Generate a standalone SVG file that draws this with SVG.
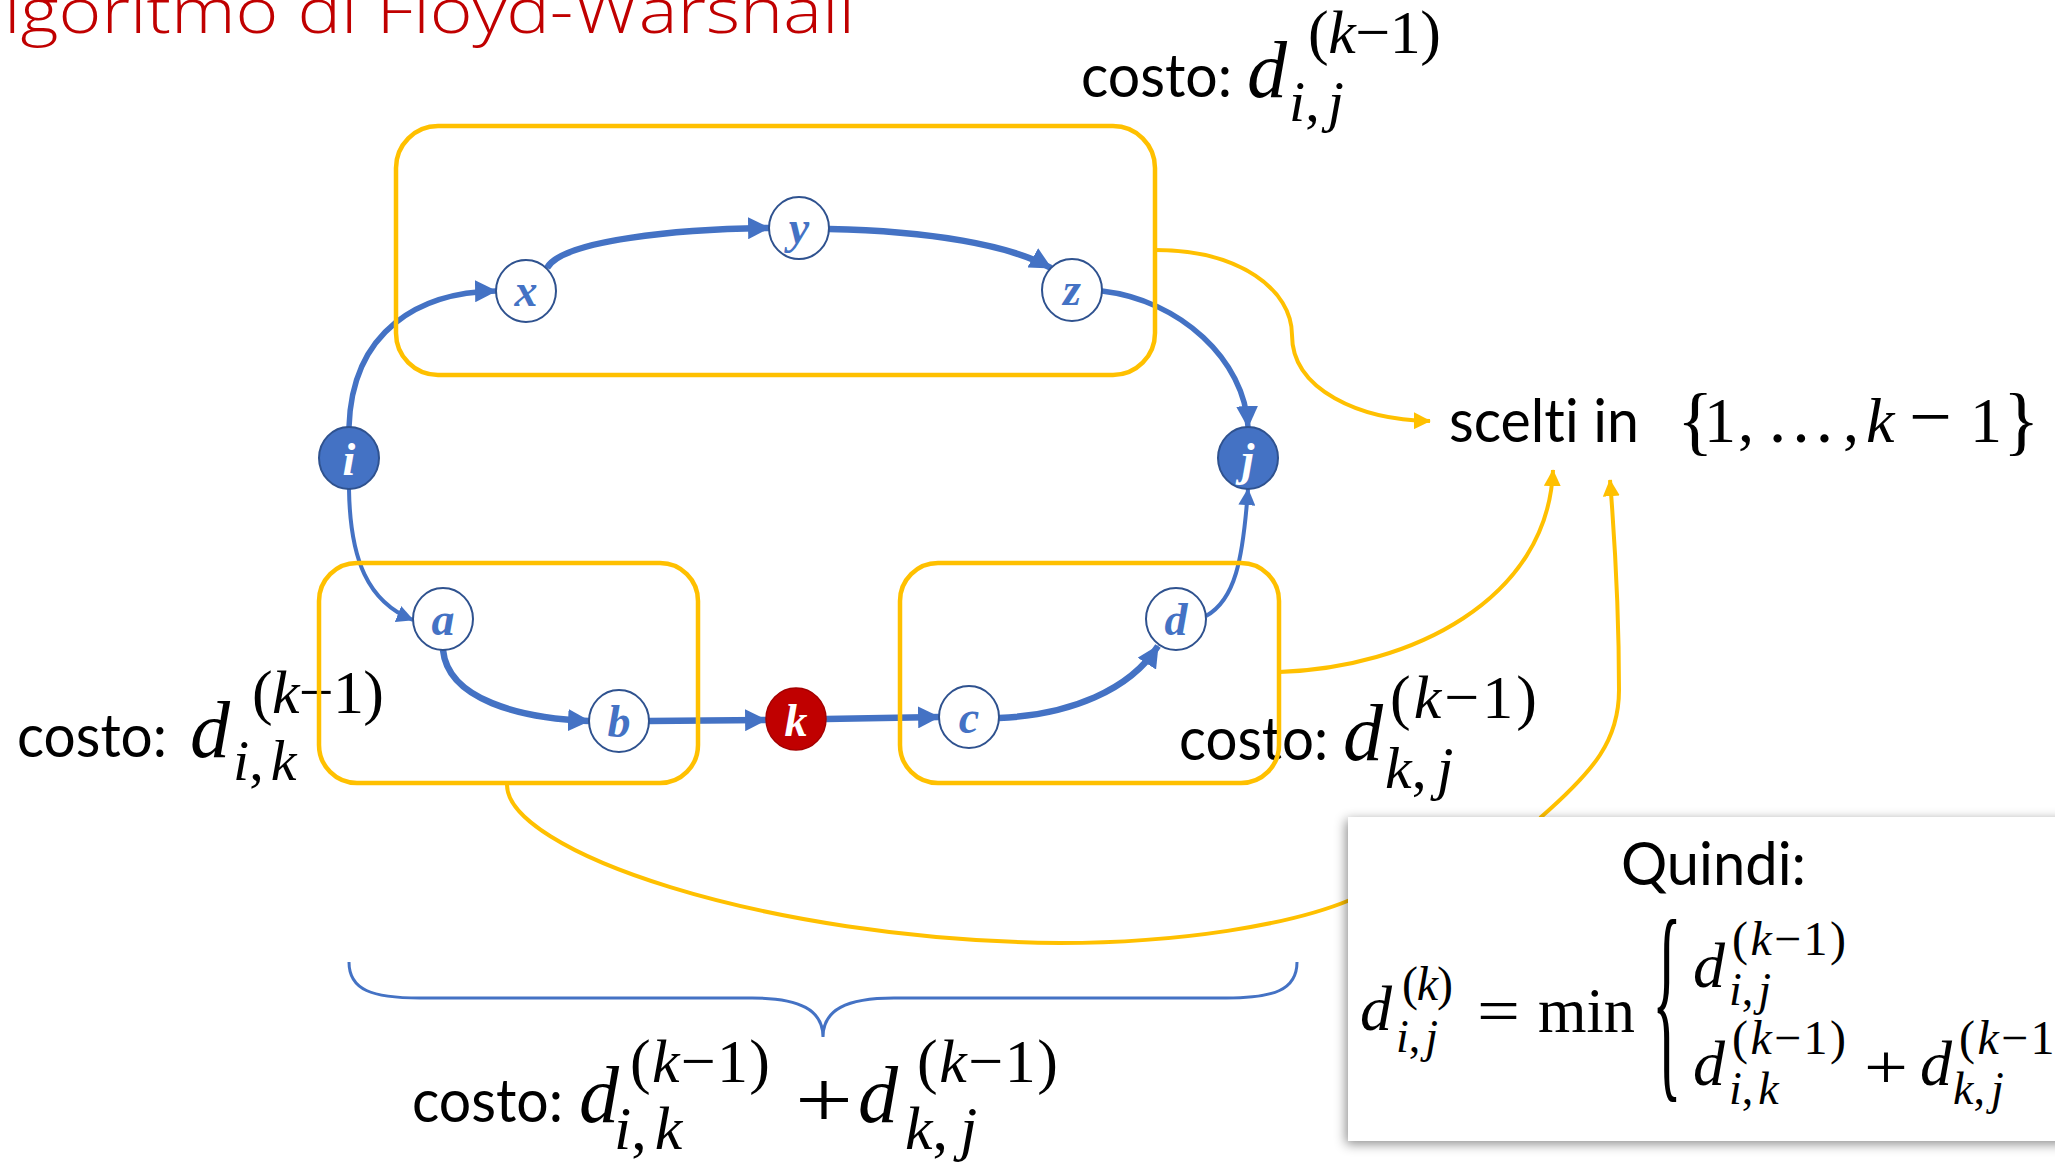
<svg xmlns="http://www.w3.org/2000/svg" width="2055" height="1163" viewBox="0 0 2055 1163">
<defs>
<style>
.sans{font-family:Lato,"Open Sans","Liberation Sans",sans-serif;fill:#000;font-variant-ligatures:none}
.m{font-family:"Liberation Serif","Times New Roman",serif;fill:#000}
.it{font-style:italic}
.up{font-style:normal}
.nl{font-family:"Liberation Serif","Times New Roman",serif;font-style:italic;font-weight:bold;text-anchor:middle;font-size:46px;fill:#4472C4}
.nlw{fill:#fff}
.edge{fill:none;stroke:#4472C4;stroke-width:5.5;marker-end:url(#ab)}
.thin{stroke-width:4;marker-end:url(#abs)}
.flat{fill:none;stroke:#4472C4;stroke-width:6.5;marker-end:url(#ab)}
.ybox{fill:none;stroke:#FFC000;stroke-width:4.5}
.ylink{fill:none;stroke:#FFC000;stroke-width:4;marker-end:url(#ay)}
.ylink0{fill:none;stroke:#FFC000;stroke-width:4}
.wn{fill:#fff;stroke:#2F528F;stroke-width:2}
.bn{fill:#4472C4;stroke:#2F528F;stroke-width:2}
.rn{fill:#C00000;stroke:#A50000;stroke-width:1.5}
</style>
<marker id="ab" markerUnits="userSpaceOnUse" markerWidth="22" markerHeight="22" viewBox="0 0 20 20" refX="19" refY="10" orient="auto"><path d="M0,0 L20,10 L0,20 z" fill="#4472C4"/></marker>
<marker id="abs" markerUnits="userSpaceOnUse" markerWidth="17" markerHeight="17" viewBox="0 0 20 20" refX="19" refY="10" orient="auto"><path d="M0,0 L20,10 L0,20 z" fill="#4472C4"/></marker>
<marker id="ay" markerUnits="userSpaceOnUse" markerWidth="17" markerHeight="17" viewBox="0 0 20 20" refX="19" refY="10" orient="auto"><path d="M0,0 L20,10 L0,20 z" fill="#FFC000"/></marker>
<filter id="sh" x="-10%" y="-20%" width="120%" height="140%"><feDropShadow dx="-2" dy="3" stdDeviation="6" flood-color="#000" flood-opacity="0.45"/></filter>
</defs>
<rect width="2055" height="1163" fill="#fff"/>

<text id="title" x="4" y="33" font-family="'Open Sans',Lato,'Liberation Sans',sans-serif" font-weight="300" font-size="62" fill="#C00000" textLength="851" lengthAdjust="spacingAndGlyphs">lgoritmo di Floyd-Warshall</text>

<!-- cost labels -->
<g id="label-top">
<text class="sans" x="1081" y="97" font-size="60" textLength="151" lengthAdjust="spacingAndGlyphs">costo:</text>
<text class="m it" x="1247" y="97" font-size="80">d</text>
<text class="m" x="1308" y="53" font-size="62" textLength="133" lengthAdjust="spacing">(<tspan class="it">k</tspan>−1)</text>
<text class="m it" x="1289" y="121" font-size="58">i<tspan class="up">,</tspan><tspan dx="8">j</tspan></text>
</g>
<g id="label-left">
<text class="sans" x="17" y="757" font-size="60" textLength="150" lengthAdjust="spacingAndGlyphs">costo:</text>
<text class="m it" x="190" y="757" font-size="80">d</text>
<text class="m" x="252" y="713" font-size="62" textLength="132" lengthAdjust="spacing">(<tspan class="it">k</tspan>−1)</text>
<text class="m it" x="233" y="780" font-size="58">i<tspan class="up">,</tspan><tspan dx="7">k</tspan></text>
</g>
<g id="label-right">
<text class="sans" x="1179" y="760" font-size="60" textLength="149" lengthAdjust="spacingAndGlyphs">costo:</text>
<text class="m it" x="1343" y="760" font-size="80">d</text>
<text class="m" x="1390" y="718" font-size="62" textLength="147" lengthAdjust="spacing">(<tspan class="it">k</tspan>−1)</text>
<text class="m it" x="1385" y="788" font-size="60">k<tspan class="up">,</tspan><tspan dx="10">j</tspan></text>
</g>
<g id="label-bottom">
<text class="sans" x="412" y="1122" font-size="60" textLength="151" lengthAdjust="spacingAndGlyphs">costo:</text>
<text class="m it" x="579" y="1122" font-size="80">d</text>
<text class="m" x="630" y="1082" font-size="62" textLength="140" lengthAdjust="spacing">(<tspan class="it">k</tspan>−1)</text>
<text class="m it" x="614" y="1149" font-size="62">i<tspan class="up">,</tspan><tspan dx="8">k</tspan></text>
<text class="m" x="795" y="1127" font-size="80" textLength="58" lengthAdjust="spacingAndGlyphs">+</text>
<text class="m it" x="858" y="1122" font-size="80">d</text>
<text class="m" x="917" y="1082" font-size="62" textLength="141" lengthAdjust="spacing">(<tspan class="it">k</tspan>−1)</text>
<text class="m it" x="905" y="1149" font-size="62">k<tspan class="up">,</tspan><tspan dx="12">j</tspan></text>
</g>
<g id="label-scelti">
<text class="sans" x="1449" y="442" font-size="60" textLength="190" lengthAdjust="spacingAndGlyphs">scelti in</text>
<text class="m" y="442" font-size="64"><tspan x="1677" y="446" font-size="76">{</tspan><tspan x="1704" y="442">1</tspan><tspan x="1738">,</tspan><tspan x="1766" font-size="70">…</tspan><tspan x="1843" font-size="64">,</tspan><tspan x="1866" font-style="italic">k</tspan><tspan x="1909" font-size="76">−</tspan><tspan x="1970" font-size="64">1</tspan><tspan x="2003" y="446" font-size="76">}</tspan></text>
</g>

<!-- blue brace -->
<path id="brace" d="M349,962 C349,990 372,998 420,998 L752,998 C800,998 823,1010 823,1037 C823,1010 846,998 894,998 L1226,998 C1274,998 1297,990 1297,962" fill="none" stroke="#4472C4" stroke-width="3"/>

<g id="connectors">
<path class="edge" d="M349,427 C352,330 420,292 496,291"/>
<path class="flat" d="M547,268 C562,240 680,229 769,228"/>
<path class="flat" d="M829,229 C930,231 1010,245 1051,268"/>
<path class="edge" d="M1102,291 C1180,300 1245,360 1248,427"/>
<path class="edge thin" d="M349,489 C350,560 368,602 413,620"/>
<path class="flat" d="M443,650 C448,700 520,718 589,721"/>
<path class="flat" d="M649,721 L766,720"/>
<path class="flat" d="M826,719 L939,717"/>
<path class="flat" d="M999,718 C1070,715 1130,690 1158,646"/>
<path class="edge thin" d="M1206,616 C1235,600 1243,560 1248,489"/>
<path class="ylink" d="M1155,250 C1240,250 1292,290 1292,335 C1292,390 1360,420 1430,421"/>
<path class="ylink" d="M1279,672 C1410,668 1548,600 1553,470"/>
<path class="ylink" d="M1540,818 C1595,770 1619,740 1619,690 C1619,600 1614,530 1610,480"/>
<path class="ylink0" d="M507,784 C505,850 760,940 1060,943 C1180,943 1290,925 1350,900"/>
</g>

<g id="group-top"><rect class="ybox" x="396" y="126" width="759" height="249" rx="42"/></g>
<g id="group-left"><rect class="ybox" x="319" y="563" width="379" height="220" rx="38"/></g>
<g id="group-right"><rect class="ybox" x="900" y="563" width="379" height="220" rx="38"/></g>

<g id="node-i"><ellipse class="bn" cx="349" cy="458" rx="30" ry="31"/><text class="nl nlw" x="349" y="475">i</text></g>
<g id="node-j"><ellipse class="bn" cx="1248" cy="458" rx="30" ry="31"/><text class="nl nlw" x="1248" y="475">j</text></g>
<g id="node-x"><ellipse class="wn" cx="526" cy="291" rx="30" ry="31"/><text class="nl" x="526" y="306">x</text></g>
<g id="node-y"><ellipse class="wn" cx="799" cy="228" rx="30" ry="31"/><text class="nl" x="799" y="243">y</text></g>
<g id="node-z"><ellipse class="wn" cx="1072" cy="290" rx="30" ry="31"/><text class="nl" x="1072" y="305">z</text></g>
<g id="node-a"><ellipse class="wn" cx="443" cy="619" rx="30" ry="31"/><text class="nl" x="443" y="635">a</text></g>
<g id="node-b"><ellipse class="wn" cx="619" cy="721" rx="30" ry="31"/><text class="nl" x="619" y="737">b</text></g>
<g id="node-k"><ellipse class="rn" cx="796" cy="719" rx="30" ry="31"/><text class="nl nlw" x="796" y="736">k</text></g>
<g id="node-c"><ellipse class="wn" cx="969" cy="717" rx="30" ry="31"/><text class="nl" x="969" y="733">c</text></g>
<g id="node-d"><ellipse class="wn" cx="1176" cy="619" rx="30" ry="31"/><text class="nl" x="1176" y="635">d</text></g>

<g id="quindi">
<rect x="1348" y="817" width="740" height="324" fill="#fff" filter="url(#sh)"/>
<text class="sans" x="1621" y="885" font-size="60" textLength="185" lengthAdjust="spacingAndGlyphs">Quindi:</text>
<text class="m it" x="1360" y="1030" font-size="64">d</text>
<text class="m" x="1402" y="1000" font-size="48" textLength="51" lengthAdjust="spacing">(<tspan class="it">k</tspan>)</text>
<text class="m it" x="1396" y="1052" font-size="46">i<tspan class="up">,</tspan><tspan dx="5">j</tspan></text>
<text class="m" x="1477" y="1032" font-size="64" textLength="43" lengthAdjust="spacingAndGlyphs">=</text>
<text class="m" x="1538" y="1032" font-size="64" textLength="97" lengthAdjust="spacingAndGlyphs">min</text>
<text class="m" font-size="62" transform="translate(1652,1072) scale(1,3.56)">{</text>
<text class="m it" x="1693" y="987" font-size="64">d</text>
<text class="m" x="1732" y="955" font-size="48" textLength="114" lengthAdjust="spacing">(<tspan class="it">k</tspan>−1)</text>
<text class="m it" x="1729" y="1005" font-size="46">i<tspan class="up">,</tspan><tspan dx="5">j</tspan></text>
<text class="m it" x="1693" y="1085" font-size="64">d</text>
<text class="m" x="1732" y="1054" font-size="48" textLength="114" lengthAdjust="spacing">(<tspan class="it">k</tspan>−1)</text>
<text class="m it" x="1729" y="1104" font-size="46">i<tspan class="up">,</tspan><tspan dx="5">k</tspan></text>
<text class="m" x="1864" y="1089" font-size="64" textLength="44" lengthAdjust="spacingAndGlyphs">+</text>
<text class="m it" x="1920" y="1085" font-size="64">d</text>
<text class="m" x="1959" y="1054" font-size="48" textLength="114" lengthAdjust="spacing">(<tspan class="it">k</tspan>−1)</text>
<text class="m it" x="1953" y="1104" font-size="46">k<tspan class="up">,</tspan><tspan dx="6">j</tspan></text>
</g>
</svg>
